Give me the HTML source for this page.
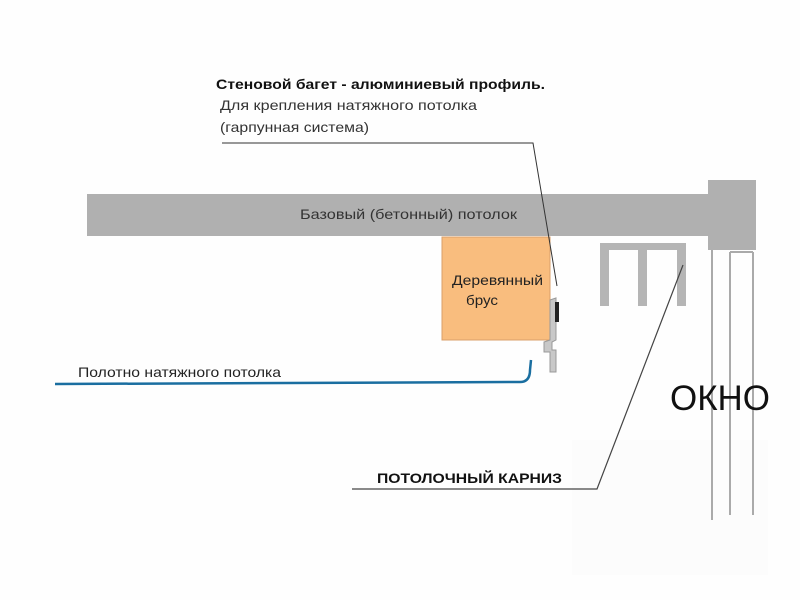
<!DOCTYPE html>
<html><head><meta charset="utf-8"><style>
html,body{margin:0;padding:0;background:#fff;}
svg{display:block;}
text{font-family:"Liberation Sans","DejaVu Sans",sans-serif;}
</style></head><body>
<svg width="800" height="600" viewBox="0 0 800 600" xmlns="http://www.w3.org/2000/svg">
<rect width="800" height="600" fill="#fefefe"/>
<!-- watermark -->
<rect x="572" y="440" width="196" height="135" fill="#fcfcfc"/>
<!-- ceiling -->
<rect x="87" y="194" width="625" height="42" fill="#b0b0b0"/>
<rect x="708" y="180" width="48" height="70" fill="#b0b0b0"/>
<text x="300" y="219" font-size="14" fill="#333" textLength="217" lengthAdjust="spacingAndGlyphs">Базовый (бетонный) потолок</text>
<!-- window -->
<g stroke="#aaa" stroke-width="2" fill="none">
<line x1="712" y1="250" x2="712" y2="520"/>
<line x1="730" y1="252" x2="730" y2="515"/>
<line x1="753" y1="252" x2="753" y2="515"/>
<line x1="730" y1="252" x2="753" y2="252"/>
</g>
<text x="670" y="410" font-size="35" fill="#111" textLength="100" lengthAdjust="spacingAndGlyphs">ОКНО</text>
<!-- wood -->
<rect x="442" y="237" width="108" height="103" fill="#f9bd7e" stroke="#d9a06a" stroke-width="1"/>
<text x="452" y="285" font-size="14" fill="#222" textLength="91" lengthAdjust="spacingAndGlyphs">Деревянный</text>
<text x="466" y="305" font-size="14" fill="#222" textLength="32" lengthAdjust="spacingAndGlyphs">брус</text>
<!-- profile -->
<path d="M550 300 L556 298 L556 340 L552 342 L552 350 L556 350 L556 372 L550 372 L550 352 L544 352 L544 342 L550 340 Z" fill="#c8c8c8" stroke="#999" stroke-width="1"/>
<rect x="555" y="302" width="4" height="20" fill="#222"/>
<!-- cornice -->
<g fill="#b5b5b5">
<rect x="600" y="243" width="86" height="7"/>
<rect x="600" y="243" width="9" height="63"/>
<rect x="638" y="243" width="9" height="63"/>
<rect x="677" y="243" width="9" height="63"/>
</g>
<!-- stretch ceiling -->
<path d="M55 384 L520 382 Q530 382 530 370 L531 360" fill="none" stroke="#1a6ea0" stroke-width="2.5"/>
<text x="78" y="377" font-size="14" fill="#222" textLength="203" lengthAdjust="spacingAndGlyphs">Полотно натяжного потолка</text>
<!-- leaders -->
<path d="M222 143 L533 143 L557 286" fill="none" stroke="#333" stroke-width="1"/>
<path d="M352 489 L597 489 L683 265" fill="none" stroke="#444" stroke-width="1.2"/>
<text x="216" y="89" font-size="14" font-weight="bold" fill="#111" textLength="329" lengthAdjust="spacingAndGlyphs">Стеновой багет - алюминиевый профиль.</text>
<text x="220" y="110" font-size="14" fill="#333" textLength="257" lengthAdjust="spacingAndGlyphs">Для крепления натяжного потолка</text>
<text x="220" y="132" font-size="14" fill="#333" textLength="149" lengthAdjust="spacingAndGlyphs">(гарпунная система)</text>
<text x="377" y="483" font-size="14" font-weight="bold" fill="#111" textLength="185" lengthAdjust="spacingAndGlyphs">ПОТОЛОЧНЫЙ КАРНИЗ</text>
</svg>
</body></html>
